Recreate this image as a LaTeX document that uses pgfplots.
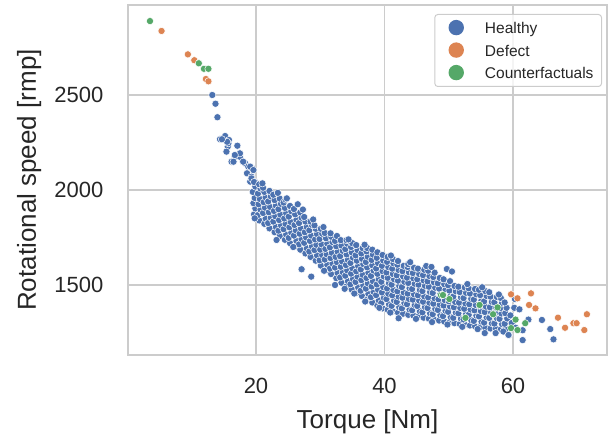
\documentclass[border=0pt]{standalone}
\usepackage{pgfplots}
\pgfplotsset{compat=1.18}
\usepackage{fontspec}
\setmainfont{Liberation Sans}
\definecolor{hblue}{HTML}{4C72B0}
\definecolor{dorange}{HTML}{DD8452}
\definecolor{cgreen}{HTML}{55A868}
\definecolor{gridgray}{HTML}{CCCCCC}
\definecolor{txt}{HTML}{262626}
\pgfplotsset{dotlegend/.style={legend image code/.code={\path[draw=none,fill=none] (-13.4bp,-3bp) rectangle (7.7bp,11bp); \fill[#1,draw=none,overlay,fill opacity=1] (0,2.4bp) circle (7.7bp);}}}
\begin{document}
\begin{tikzpicture}
\useasboundingbox (0,0) rectangle (610bp,436bp);
\begin{axis}[
  at={(128bp,81bp)}, anchor=south west,
  scale only axis, width=479bp, height=350bp,
  xmin=0.08, xmax=74.63, ymin=1131.6, ymax=2973.7,
  xtick={20,40,60}, xticklabels={20,40,60},
  ytick={1500,2000,2500}, yticklabels={1500,2000,2500},
  scaled ticks=false,
  major tick length=0pt,
  grid=major,
  major grid style={draw=gridgray, line width=1.8bp},
  axis line style={draw=gridgray, line width=1.8bp},
  tick label style={font=\fontsize{22bp}{26bp}\selectfont, text=txt, inner sep=0pt},
  xticklabel style={anchor=north, yshift=-23bp},
  yticklabel style={anchor=east, xshift=-24.5bp},
  every axis x label/.style={at={(axis description cs:0.5,-0.2086)}, anchor=base, font=\fontsize{26bp}{30bp}\selectfont, text=txt},
  every axis y label/.style={at={(axis description cs:-0.1921,0.5)}, rotate=90, anchor=base, font=\fontsize{26bp}{30bp}\selectfont, text=txt},
  xlabel={Torque [Nm]},
  ylabel={Rotational speed [rmp]},
  legend style={at={(axis description cs:1,1)}, anchor=north east, xshift=-5bp, yshift=-9bp,
    draw=gridgray, fill=white, fill opacity=0.8, text opacity=1, draw opacity=1, rounded corners=3bp, line width=1bp,
    font=\fontsize{15.5bp}{18bp}\selectfont, text=txt, inner xsep=8bp, inner ysep=4.5bp, row sep=4.5bp, column sep=21bp,
    cells={anchor=west}, nodes={inner sep=0pt, text height=11bp, text depth=3bp}},
  legend cell align=left,
]
\addplot[only marks, mark=*, mark size=3.6bp, mark options={fill=hblue, draw=white, line width=0.5bp}, dotlegend=hblue] coordinates {
(13.2,2500)(13.7,2454)(14.0,2383)(14.4,2267)(15.2,2284)(15.8,2263)(15.6,2228)(17.1,2233)(15.4,2202)(16.2,2149)(16.7,2175)(17.5,2175)(18.3,2141)(18.8,2123)(19.4,2114)(18.6,2088)(19.3,2070)(19.8,2044)(16.5,2149)(18.0,2149)(19.1,2123)(19.6,2105)(19.1,2044)(20.9,2026)(20.1,2009)(17.5,2193)(16.7,2184)(15.7,2246)(15.5,2254)(14.7,2267)(19.3,2061)
(19.7,1872)(19.9,1903)(19.6,1931)(19.8,1958)(19.5,1990)(19.9,2018)(19.7,2042)
(20.5,1840)(20.3,1868)(20.7,1897)(20.4,1925)(20.6,1953)(20.3,1981)(20.7,2008)(20.5,2030)
(21.3,1822)(21.5,1850)(21.1,1879)(21.4,1907)(21.2,1936)(21.5,1962)(21.3,1990)(21.1,2012)
(22.1,1798)(21.9,1826)(22.3,1855)(22.0,1883)(22.2,1911)(21.9,1940)(22.3,1967)(22.1,1995)
(22.9,1778)(23.1,1806)(22.7,1834)(23.0,1862)(22.8,1890)(23.1,1918)(22.9,1947)(22.7,1975)
(23.7,1758)(23.5,1786)(23.9,1814)(23.6,1842)(23.8,1871)(23.5,1899)(23.9,1927)(23.7,1955)
(24.5,1738)(24.7,1766)(24.3,1794)(24.6,1822)(24.4,1850)(24.7,1878)(24.5,1906)(24.3,1934)(24.6,1950)
(25.3,1720)(25.1,1748)(25.5,1776)(25.2,1804)(25.4,1832)(25.1,1860)(25.5,1888)(25.3,1916)
(26.1,1704)(26.3,1732)(25.9,1760)(26.2,1788)(26.0,1816)(26.3,1844)(26.1,1872)(25.9,1900)
(26.9,1686)(26.7,1714)(27.1,1742)(26.8,1770)(27.0,1798)(26.7,1826)(27.1,1854)(26.9,1882)
(27.7,1666)(27.9,1694)(27.5,1722)(27.8,1750)(27.6,1778)(27.9,1806)(27.7,1834)(27.5,1858)
(28.5,1648)(28.3,1676)(28.7,1704)(28.4,1732)(28.6,1760)(28.3,1788)(28.7,1816)(28.5,1834)
(29.3,1628)(29.5,1656)(29.1,1684)(29.4,1712)(29.2,1740)(29.5,1768)(29.3,1796)(29.1,1814)
(30.1,1602)(29.9,1630)(30.3,1658)(30.0,1686)(30.2,1714)(29.9,1742)(30.3,1770)(30.1,1796)
(30.9,1578)(31.1,1606)(30.7,1634)(31.0,1662)(30.8,1690)(31.1,1718)(30.9,1746)(30.7,1774)
(31.7,1558)(31.5,1586)(31.9,1614)(31.6,1642)(31.8,1670)(31.5,1698)(31.9,1726)(31.7,1754)(31.6,1772)
(32.5,1536)(32.7,1564)(32.3,1592)(32.6,1620)(32.4,1648)(32.7,1676)(32.5,1704)(32.3,1732)(32.6,1758)
(33.3,1512)(33.1,1540)(33.5,1568)(33.2,1596)(33.4,1624)(33.1,1652)(33.5,1680)(33.3,1708)(33.2,1736)
(34.1,1493)(34.3,1521)(33.9,1549)(34.2,1577)(34.0,1605)(34.3,1633)(34.1,1661)(33.9,1689)(34.2,1717)(34.1,1736)
(34.9,1476)(34.7,1504)(35.1,1532)(34.8,1560)(35.0,1588)(34.7,1616)(35.1,1644)(34.9,1672)(34.8,1700)(35.0,1720)
(35.7,1460)(35.9,1488)(35.5,1516)(35.8,1544)(35.6,1572)(35.9,1600)(35.7,1628)(35.5,1656)(35.8,1684)(35.6,1710)
(36.5,1442)(36.3,1470)(36.7,1498)(36.4,1526)(36.6,1554)(36.3,1582)(36.7,1610)(36.5,1638)(36.4,1666)(36.6,1694)
(37.3,1425)(37.5,1453)(37.1,1481)(37.4,1509)(37.2,1537)(37.5,1565)(37.3,1593)(37.1,1621)(37.4,1649)(37.2,1677)(37.3,1695)
(38.1,1408)(37.9,1436)(38.3,1464)(38.0,1492)(38.2,1520)(37.9,1548)(38.3,1576)(38.1,1604)(38.0,1632)(38.2,1660)(38.1,1686)
(38.9,1391)(39.1,1419)(38.7,1447)(39.0,1475)(38.8,1503)(39.1,1531)(38.9,1559)(38.7,1587)(39.0,1615)(38.8,1643)(38.9,1672)
(39.7,1377)(39.5,1405)(39.9,1433)(39.6,1461)(39.8,1489)(39.5,1517)(39.9,1545)(39.7,1573)(39.6,1601)(39.8,1629)(39.7,1658)
(40.5,1370)(40.7,1398)(40.3,1426)(40.6,1454)(40.4,1482)(40.7,1510)(40.5,1538)(40.3,1566)(40.6,1594)(40.4,1622)(40.5,1648)
(41.3,1362)(41.1,1390)(41.5,1418)(41.2,1446)(41.4,1474)(41.1,1502)(41.5,1530)(41.3,1558)(41.2,1586)(41.4,1614)(41.3,1637)
(42.1,1355)(42.3,1383)(41.9,1411)(42.2,1439)(42.0,1467)(42.3,1495)(42.1,1523)(41.9,1551)(42.2,1579)(42.0,1607)(42.1,1626)
(42.9,1349)(42.7,1377)(43.1,1405)(42.8,1433)(43.0,1461)(42.7,1489)(43.1,1517)(42.9,1545)(42.8,1573)(43.0,1601)
(43.7,1343)(43.9,1371)(43.5,1399)(43.8,1427)(43.6,1455)(43.9,1483)(43.7,1511)(43.5,1539)(43.8,1567)(43.6,1595)(43.7,1610)
(44.5,1339)(44.3,1367)(44.7,1395)(44.4,1423)(44.6,1451)(44.3,1479)(44.7,1507)(44.5,1535)(44.4,1563)(44.6,1591)
(45.3,1334)(45.5,1362)(45.1,1390)(45.4,1418)(45.2,1446)(45.5,1474)(45.3,1502)(45.1,1530)(45.4,1558)(45.2,1586)
(46.1,1328)(45.9,1356)(46.3,1384)(46.0,1412)(46.2,1440)(45.9,1468)(46.3,1496)(46.1,1524)(46.0,1552)(46.2,1580)
(46.9,1323)(47.1,1351)(46.7,1379)(47.0,1407)(46.8,1435)(47.1,1463)(46.9,1491)(46.7,1519)(47.0,1547)(46.8,1575)
(47.7,1318)(47.5,1346)(47.9,1374)(47.6,1402)(47.8,1430)(47.5,1458)(47.9,1486)(47.7,1514)(47.6,1542)(47.8,1565)
(48.5,1313)(48.7,1341)(48.3,1369)(48.6,1397)(48.4,1425)(48.7,1453)(48.5,1481)(48.3,1509)(48.6,1537)
(49.3,1308)(49.1,1336)(49.5,1364)(49.2,1392)(49.4,1420)(49.1,1448)(49.5,1476)(49.3,1504)(49.2,1530)
(50.1,1303)(50.3,1331)(49.9,1359)(50.2,1387)(50.0,1415)(50.3,1443)(50.1,1471)(49.9,1499)(50.2,1520)
(50.9,1299)(50.7,1327)(51.1,1355)(50.8,1383)(51.0,1411)(50.7,1439)(51.1,1467)(50.9,1495)
(51.7,1295)(51.9,1323)(51.5,1351)(51.8,1379)(51.6,1407)(51.9,1435)(51.7,1463)(51.5,1491)
(52.5,1291)(52.3,1319)(52.7,1347)(52.4,1375)(52.6,1403)(52.3,1431)(52.7,1459)(52.5,1487)
(53.3,1287)(53.5,1315)(53.1,1343)(53.4,1371)(53.2,1399)(53.5,1427)(53.3,1455)(53.1,1483)
(54.1,1283)(53.9,1311)(54.3,1339)(54.0,1367)(54.2,1395)(53.9,1423)(54.3,1451)(54.1,1479)
(54.9,1279)(55.1,1307)(54.7,1335)(55.0,1363)(54.8,1391)(55.1,1419)(54.9,1447)(54.7,1475)
(55.7,1274)(55.5,1302)(55.9,1330)(55.6,1358)(55.8,1386)(55.5,1414)(55.9,1442)(55.7,1468)
(56.5,1271)(56.7,1299)(56.3,1327)(56.6,1355)(56.4,1383)(56.7,1411)(56.5,1439)(56.3,1462)
(57.3,1269)(57.1,1297)(57.5,1325)(57.2,1353)(57.4,1381)(57.1,1409)(57.5,1437)
(58.1,1266)(58.3,1294)(57.9,1322)(58.2,1350)(58.0,1378)(58.3,1406)(58.1,1432)
(58.9,1268)(58.7,1296)(59.1,1324)(58.8,1352)(59.0,1380)(58.7,1408)
(21.0,2035)(23.4,1985)(24.8,1956)(26.5,1925)(27.3,1897)(28.9,1845)(30.5,1805)(34.4,1740)(36.9,1712)(41.0,1655)(44.0,1620)(46.5,1600)(47.3,1595)(49.7,1584)(50.5,1571)(52.9,1505)(55.2,1488)(57.8,1450)
(19.8,1851)(23.2,1737)(25.8,1700)(27.1,1583)(28.6,1544)(30.6,1575)(32.3,1500)(33.8,1480)(35.3,1455)(37.0,1413)(39.2,1380)(40.9,1355)(42.2,1325)(44.9,1322)(47.4,1305)(49.8,1292)(52.1,1280)(54.5,1268)(55.6,1247)(57.3,1247)(59.4,1237)(58.5,1255)
(59.6,1340)(59.8,1300)(60.3,1426)(60.4,1275)(61.5,1210)(62.4,1318)(64.5,1316)(65.8,1268)(66.3,1214)(59.3,1237)(60.2,1380)(61.0,1372)(61.5,1262)
};
\addlegendentry{Healthy}
\addplot[only marks, mark=*, mark size=3.6bp, mark options={fill=dorange, draw=white, line width=0.5bp}, dotlegend=dorange] coordinates {
(5.3,2837)(9.4,2714)(10.4,2683)(12.2,2584)(12.6,2572)(59.7,1451)(60.7,1430)(62.8,1456)(62.5,1395)(63.5,1377)(67.0,1328)(68.1,1275)(69.4,1299)(69.9,1299)(71.5,1346)(71.1,1263)
};
\addlegendentry{Defect}
\addplot[only marks, mark=*, mark size=3.6bp, mark options={fill=cgreen, draw=white, line width=0.5bp}, dotlegend=cgreen] coordinates {
(3.5,2889)(11.1,2667)(11.9,2638)(12.6,2638)(48.8,1447)(49.1,1447)(50.1,1426)(54.8,1395)(57.6,1382)(52.6,1327)(56.9,1346)(60.4,1318)(61.9,1299)(59.7,1273)(60.7,1263)
};
\addlegendentry{Counterfactuals}
\end{axis}
\end{tikzpicture}
\end{document}
